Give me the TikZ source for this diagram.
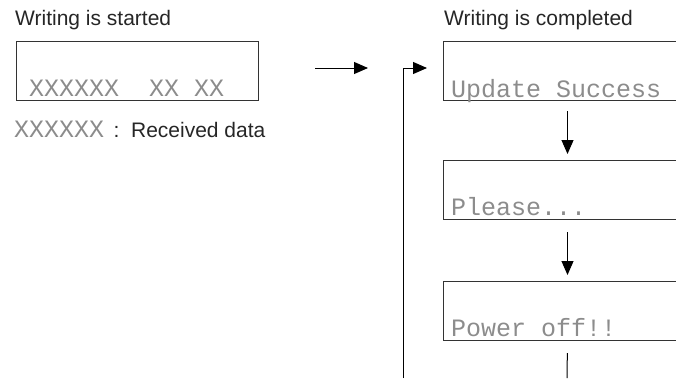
\documentclass[tikz,border=0pt]{standalone}
\usepackage{fontspec}
\setmainfont{Liberation Sans}
\newfontfamily\lcdfont{Liberation Mono}
\usetikzlibrary{arrows.meta,calc}
\tikzset{
  lcdbox/.style={draw=black!80, line width=1pt, rectangle, inner sep=0pt, anchor=north west, minimum height=59pt},
  lcdtext/.style={inner sep=0pt, anchor=base west, text=black!45, font=\lcdfont\fontsize{25}{28}\selectfont},
  title/.style={inner sep=0pt, anchor=base west, text=black!85, font=\fontsize{21}{24}\selectfont},
  arr/.style={line width=1pt, -{Triangle[length=14pt,width=12pt]}},
  conn/.style={line width=1pt}
}
\begin{document}
\begin{tikzpicture}[x=1pt,y=-1pt]
\useasboundingbox (0,0) rectangle (676,378);
\clip (0,0) rectangle (676,378);
% left part
\node[title] (t0) at (15,25) {Writing is started};
\node[lcdbox, minimum width=242pt] (b0) at (16,41) {};
\node[lcdtext] (x0) at ([xshift=13pt,yshift=5pt]b0.south west) {XXXXXX\ \ XX\ XX};
\node[lcdtext] (leg) at (14,137) {XXXXXX};
\node[title, anchor=base west] (legt) at ([xshift=9pt]leg.base east) {:\ \ Received data};
% right part
\node[title] (t1) at (444,25) {Writing is completed};
\node[lcdbox, minimum width=248pt] (b1) at (443,41) {};
\node[lcdbox, minimum width=248pt] (b2) at (443,160) {};
\node[lcdbox, minimum width=248pt] (b3) at (443,281) {};
\node[lcdtext] (x1) at ([xshift=8pt,yshift=4pt]b1.south west) {Update Success};
\node[lcdtext] (x2) at ([xshift=8pt,yshift=5pt]b2.south west) {Please...};
\node[lcdtext] (x3) at ([xshift=8pt,yshift=5pt]b3.south west) {Power off!!};
% connectors
\draw[arr, shorten <=56pt, shorten >=75pt] ([yshift=3pt]b0.east) -- ([yshift=3pt]b1.west);
\draw[arr, shorten <=10pt, shorten >=6pt] (b1.south) -- (b2.north);
\draw[arr, shorten <=12pt, shorten >=6pt] (b2.south) -- (b3.north);
\coordinate (e3) at (567,378);
\draw[conn, shorten <=12pt] (b3.south) -- (e3);
\coordinate (fb) at (403,378);
\draw[arr, shorten >=16pt] (fb) |- ([yshift=3pt]b1.west);
\end{tikzpicture}
\end{document}
